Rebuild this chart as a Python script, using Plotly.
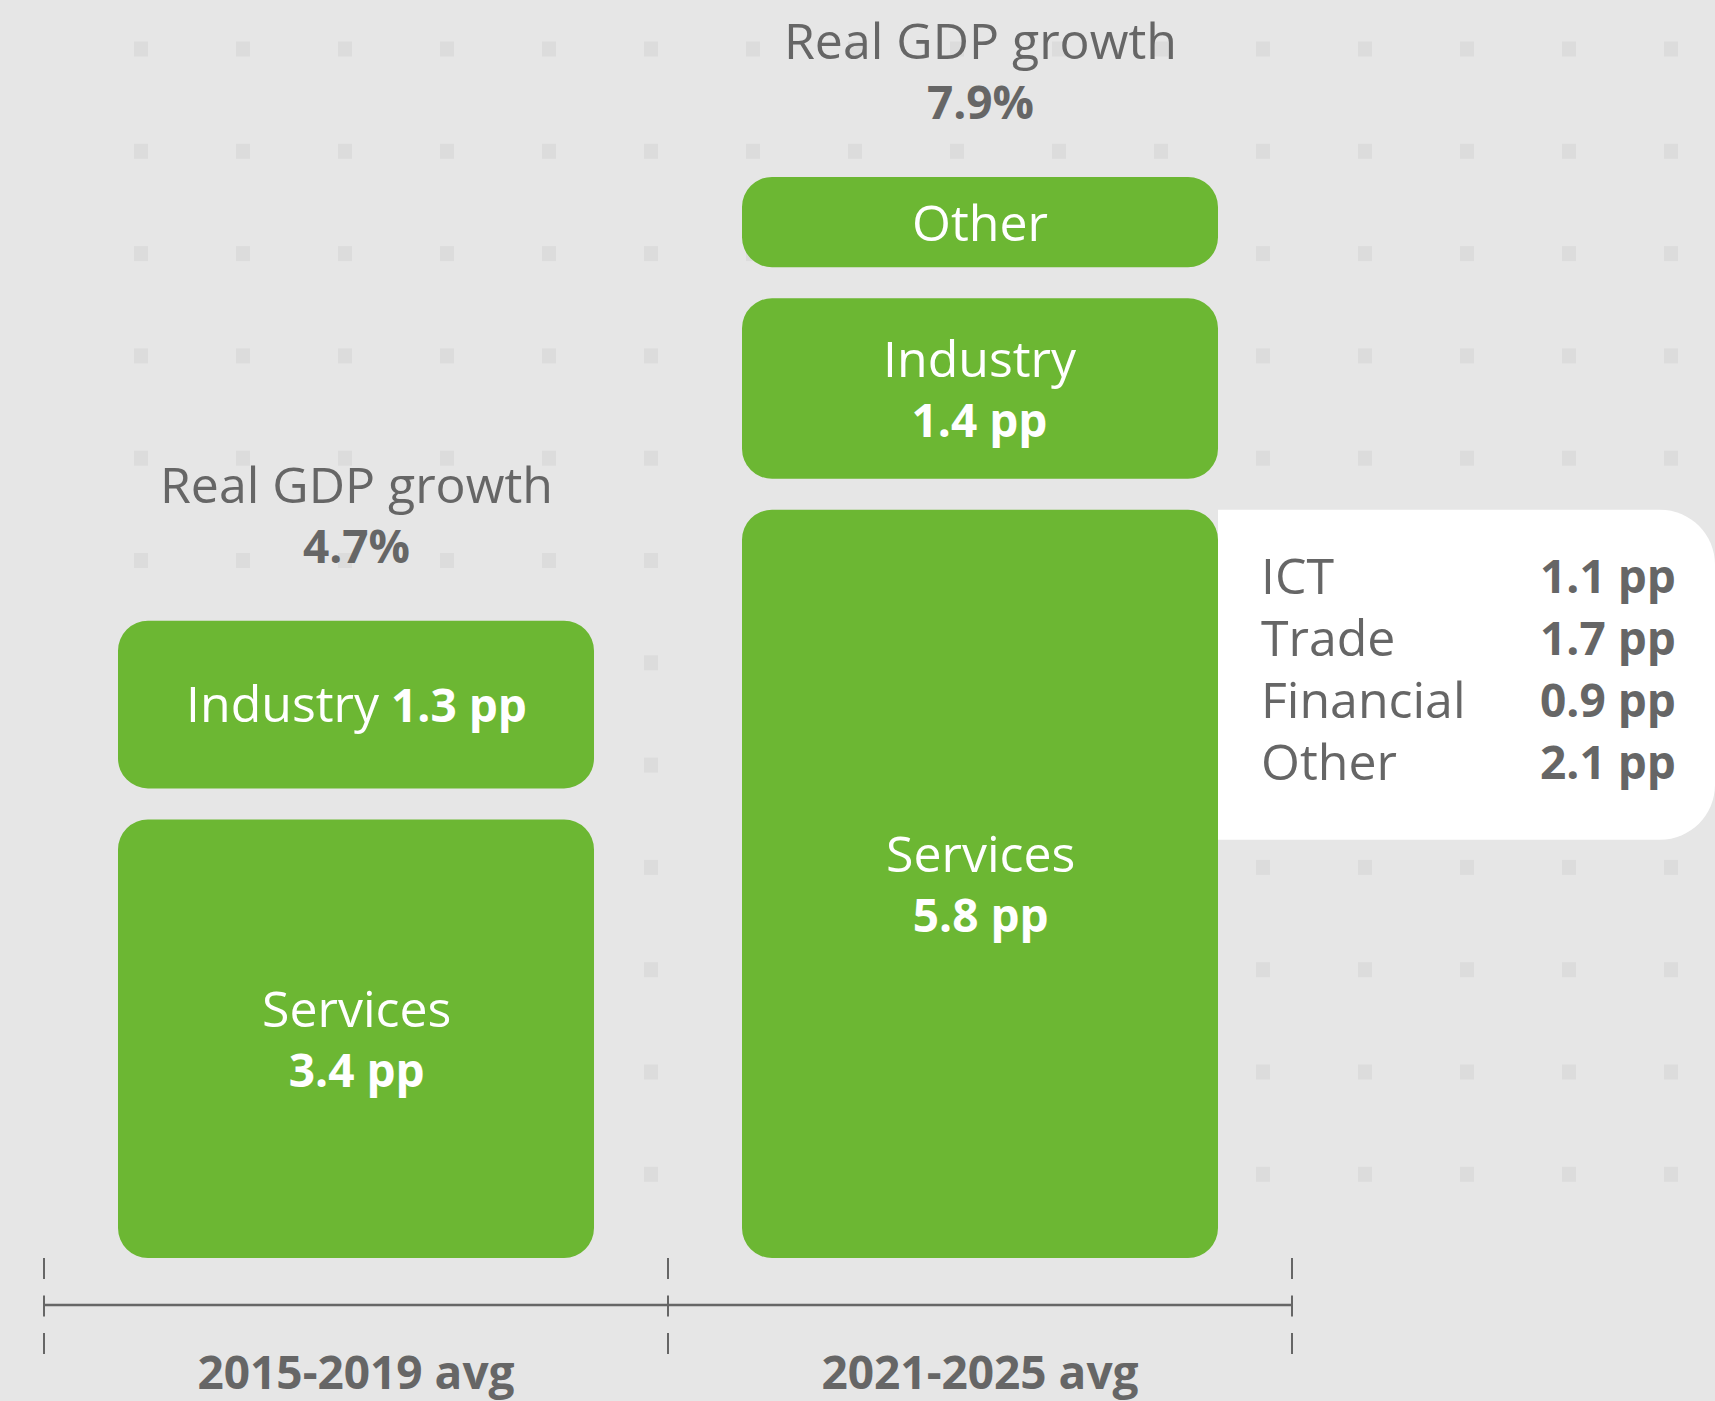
import plotly.graph_objects as go

# ---------------- data ----------------
periods = ["2015-2019 avg", "2021-2025 avg"]
gdp_growth = [4.7, 7.9]

sectors_1519 = ["Services", "Industry"]
values_1519 = [3.4, 1.3]

sectors_2125 = ["Services", "Industry", "Other"]
values_2125 = [5.8, 1.4, 0.7]          # "Other" is unlabelled: 7.9 - 5.8 - 1.4
show_value_2125 = [True, True, False]

services_sub = ["ICT", "Trade", "Financial", "Other"]
services_sub_values = [1.1, 1.7, 0.9, 2.1]

# ---------------- style ----------------
W, H = 1715, 1401
BG = "#e6e6e6"
DOT = "#dcdcdc"
GREEN = "#6cb733"
GREY = "#666666"
WHITE = "#ffffff"
FONT = "Open Sans"
FS = 50        # regular text
FSB = 46       # bold figures
FBASE = 46     # base size -> line spacing 1.3*46

MB = 96                      # bottom margin (axis line sits at plot bottom)
PX_PER_X = 624               # pixels per category step
X_ORIGIN_PX = 356            # pixel of first category centre
PX_PER_Y = 129               # pixels per percentage point
Y_ORIGIN_PX = 1258           # pixel of the baseline (0 pp)
plot_h = H - MB
x_range = [-X_ORIGIN_PX / PX_PER_X, (W - X_ORIGIN_PX) / PX_PER_X]
y_range = [-(plot_h - Y_ORIGIN_PX) / PX_PER_Y, Y_ORIGIN_PX / PX_PER_Y]

BAR_W = 476 / PX_PER_X
GAP = 31 / PX_PER_Y
RADIUS = 30

label_inline = {(0, 1): True}  # left "Industry 1.3 pp" written on one line

stacks = [
    (sectors_1519, values_1519, [True] * len(values_1519)),
    (sectors_2125, values_2125, show_value_2125),
]

annotations = []


def reg(s):
    return f"<span style='font-size:{FS}px'>{s}</span>"


def bold(s):
    return f"<span style='font-size:{FSB}px'><b>{s}</b></span>"


def ann(x, y, text, color, yshift=0, xanchor="center"):
    annotations.append(dict(x=x, y=y, xref="x", yref="y", text=text,
                            showarrow=False, xanchor=xanchor, yanchor="middle",
                            yshift=yshift, align=xanchor if xanchor != "center" else "center",
                            font=dict(family=FONT, size=FBASE, color=color)))


# ---------------- bars ----------------
bx, bbase, by = [], [], []
stack_tops = []
block_geom = {}
for p, (names, vals, showv) in enumerate(stacks):
    cum = 0.0
    for i, (nm, v) in enumerate(zip(names, vals)):
        base = cum + i * GAP
        mid = base + v / 2
        bx.append(p); bbase.append(base); by.append(v)
        block_geom[(p, i)] = (base, base + v)
        if showv[i]:
            sep = " " if label_inline.get((p, i)) else "<br>"
            ann(p, mid, f"{reg(nm)}{sep}{bold(f'{v:.1f} pp')}", WHITE, yshift=2)
        else:
            ann(p, mid, reg(nm), WHITE)
        cum += v
    stack_tops.append(cum + (len(vals) - 1) * GAP)

fig = go.Figure()
fig.add_trace(go.Bar(x=bx, y=by, base=bbase, width=BAR_W,
                     marker=dict(color=GREEN, line=dict(width=0), cornerradius=RADIUS),
                     hoverinfo="skip", showlegend=False))

# ---------------- totals above stacks ----------------
for p, g in enumerate(gdp_growth):
    ann(p, stack_tops[p], f"{reg('Real GDP growth')}<br>{bold(f'{g:.1f}%')}", GREY, yshift=108)

# ---------------- shapes: dotted background ----------------
shapes = []
dx = 102 / PX_PER_X
dy = 102.3 / PX_PER_Y
dot_hw = 7 / PX_PER_X
dot_hh = 7.5 / PX_PER_Y
x_first = (141 - X_ORIGIN_PX) / PX_PER_X
y_first = (Y_ORIGIN_PX - 49) / PX_PER_Y
for j in range(12):
    for i in range(16):
        cx = x_first + i * dx
        cy = y_first - j * dy
        shapes.append(dict(type="rect", xref="x", yref="y", layer="below",
                           x0=cx - dot_hw, x1=cx + dot_hw, y0=cy - dot_hh, y1=cy + dot_hh,
                           fillcolor=DOT, line=dict(width=0)))

# ---------------- callout box for services breakdown ----------------
srv_bot, srv_top = block_geom[(1, 0)]
xl = 1 + BAR_W / 2
xr = x_range[1]
yt = srv_top
yb = yt - 330 / PX_PER_Y
rx = 55 / PX_PER_X
ry = 55 / PX_PER_Y
k = 0.5523
path = (f"M {xl},{yt} L {xr - rx},{yt} "
        f"C {xr - rx + k * rx},{yt} {xr},{yt - ry + k * ry} {xr},{yt - ry} "
        f"L {xr},{yb + ry} "
        f"C {xr},{yb + ry - k * ry} {xr - rx + k * rx},{yb} {xr - rx},{yb} "
        f"L {xl},{yb} Z")
shapes.append(dict(type="path", path=path, xref="x", yref="y", layer="below",
                   fillcolor=WHITE, line=dict(width=0)))

row_h = 62 / PX_PER_Y
yc = (yt + yb) / 2 + 7 / PX_PER_Y
n = len(services_sub)
for i, (nm, v) in enumerate(zip(services_sub, services_sub_values)):
    y = yc + ((n - 1) / 2 - i) * row_h
    ann(xl + 41 / PX_PER_X, y, reg(nm), GREY, xanchor="left")
    ann(xr - 37 / PX_PER_X, y, bold(f"{v:.1f} pp"), GREY, xanchor="right")

# ---------------- axis line and dashed category boundaries ----------------
def xpaper(x):
    return (x - x_range[0]) / (x_range[1] - x_range[0])


def ypaper(px):
    return (plot_h - px) / plot_h


bounds = [-0.5 + i for i in range(len(periods) + 1)]
shapes.append(dict(type="line", xref="x", yref="paper", layer="above",
                   x0=bounds[0], x1=bounds[-1], y0=0, y1=0,
                   line=dict(color=GREY, width=2.5)))
for bd in bounds:
    shapes.append(dict(type="line", xref="paper", yref="paper", layer="above",
                       x0=xpaper(bd), x1=xpaper(bd), y0=ypaper(1258), y1=ypaper(1354),
                       line=dict(color=GREY, width=2, dash="21px,16.5px")))

fig.update_layout(
    width=W, height=H,
    margin=dict(l=0, r=0, t=0, b=MB, autoexpand=False),
    paper_bgcolor=BG, plot_bgcolor=BG,
    barmode="overlay",
    hovermode=False,
    showlegend=False,
    shapes=shapes,
    annotations=annotations,
    font=dict(family=FONT, color=GREY),
    xaxis=dict(range=x_range, tickvals=list(range(len(periods))),
               ticktext=[f"<b>{p}</b>" for p in periods],
               tickfont=dict(family=FONT, size=FSB, color=GREY),
               ticks="", ticklabelstandoff=37, automargin=False,
               showgrid=False, zeroline=False, showline=False, fixedrange=True),
    yaxis=dict(range=y_range, visible=False, automargin=False,
               showgrid=False, zeroline=False, fixedrange=True),
)

fig.write_html("out.html", config={"displayModeBar": False},
               post_script="document.body.style.margin='0';document.body.style.overflow='hidden';")
